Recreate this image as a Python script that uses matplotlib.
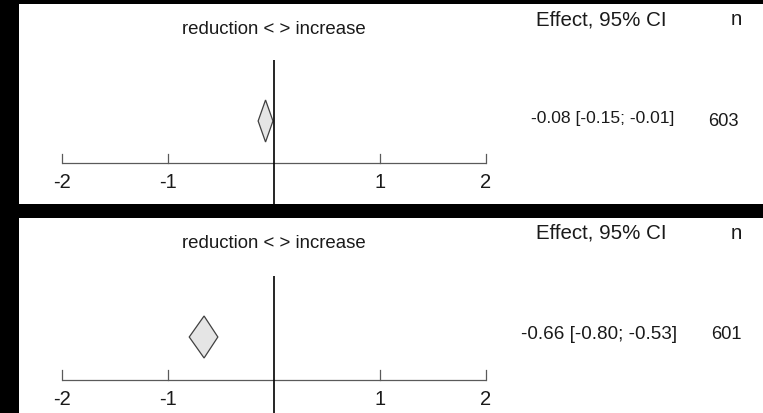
import matplotlib
matplotlib.use("Agg")
import matplotlib.pyplot as plt
from matplotlib.patches import Polygon

plt.rcParams['font.family'] = ['Liberation Sans', 'DejaVu Sans']

# Pooled effects for the two analyses
estimates = [-0.08, -0.66]
ci_low = [-0.15, -0.80]
ci_high = [-0.01, -0.53]
sample_sizes = [603, 601]
tick_values = [-2, -1, 0, 1, 2]
tick_labels = ["-2", "-1", "", "1", "2"]
direction_label = "reduction < > increase"
effect_header = "Effect, 95% CI"
n_header = "n"

W, H = 763, 414
DPI = 100
fig = plt.figure(figsize=(W / DPI, H / DPI), dpi=DPI, facecolor='black')


def px_rect(x0, y0, x1, y1):
    return [x0 / W, 1 - y1 / H, (x1 - x0) / W, (y1 - y0) / H]


# panel boxes in pixels and vertical/horizontal layout inside each panel
panels = [
    dict(box=(19, 5, 763, 205), axis_y=159, tick_top=150, vline_top=56,
         diamond_y=117, label_y=178, head_y=24, hdr_base=20, val_base=118,
         n_base=120.5, val_size=12.6, val_x=3.78, n_x=4.24),
    dict(box=(19, 219, 763, 414), axis_y=161.7, tick_top=152, vline_top=58,
         diamond_y=119, label_y=181, head_y=25, hdr_base=20, val_base=120,
         n_base=120, val_size=13.6, val_x=3.805, n_x=4.27),
]

for i, p in enumerate(panels):
    x0, y0, x1, y1 = p['box']
    ax = fig.add_axes(px_rect(x0, y0, x1, y1))
    ax.set_facecolor('white')
    for s in ax.spines.values():
        s.set_visible(False)
    ax.set_xticks([])
    ax.set_yticks([])
    ax.set_xlim(-2.406, 4.613)
    ax.set_ylim(y1 - y0, 0)

    axis_y = p['axis_y']
    # horizontal scale with upward ticks
    ax.plot([tick_values[0], tick_values[-1]], [axis_y, axis_y],
            color='#5a5a5a', lw=0.9, solid_capstyle='butt')
    for tv, tl in zip(tick_values, tick_labels):
        if tv != 0:
            ax.plot([tv, tv], [axis_y, p['tick_top']], color='#5a5a5a', lw=0.9)
        if tl:
            ax.text(tv, p['label_y'], tl, ha='center', va='center',
                    fontsize=14.5, color='#1a1a1a')

    # line of no effect
    ax.plot([0, 0], [p['vline_top'], y1 - y0], color='black', lw=1.2,
            solid_capstyle='butt')

    # summary diamond
    est, lo, hi = estimates[i], ci_low[i], ci_high[i]
    yc, hh = p['diamond_y'], 21
    ax.add_patch(Polygon([(lo, yc), (est, yc - hh), (hi, yc), (est, yc + hh)],
                         closed=True, facecolor='#e5e5e5', edgecolor='#404040',
                         lw=0.9))

    ax.text(0, p['head_y'], direction_label, ha='center', va='center',
            fontsize=13.4, color='#1a1a1a')
    ax.text(3.698, p['hdr_base'], effect_header, ha='right', va='baseline',
            fontsize=14.8, color='#1a1a1a')
    ax.text(4.36, p['hdr_base'], n_header, ha='center', va='baseline',
            fontsize=14.8, color='#1a1a1a')
    ax.text(p['val_x'], p['val_base'], f"{est:.2f} [{lo:.2f}; {hi:.2f}]",
            ha='right', va='baseline', fontsize=p['val_size'], color='#1a1a1a')
    ax.text(p['n_x'], p['n_base'], f"{sample_sizes[i]}", ha='center',
            va='baseline', fontsize=13.2, color='#1a1a1a')

fig.savefig("out.png", dpi=DPI, facecolor='black')
